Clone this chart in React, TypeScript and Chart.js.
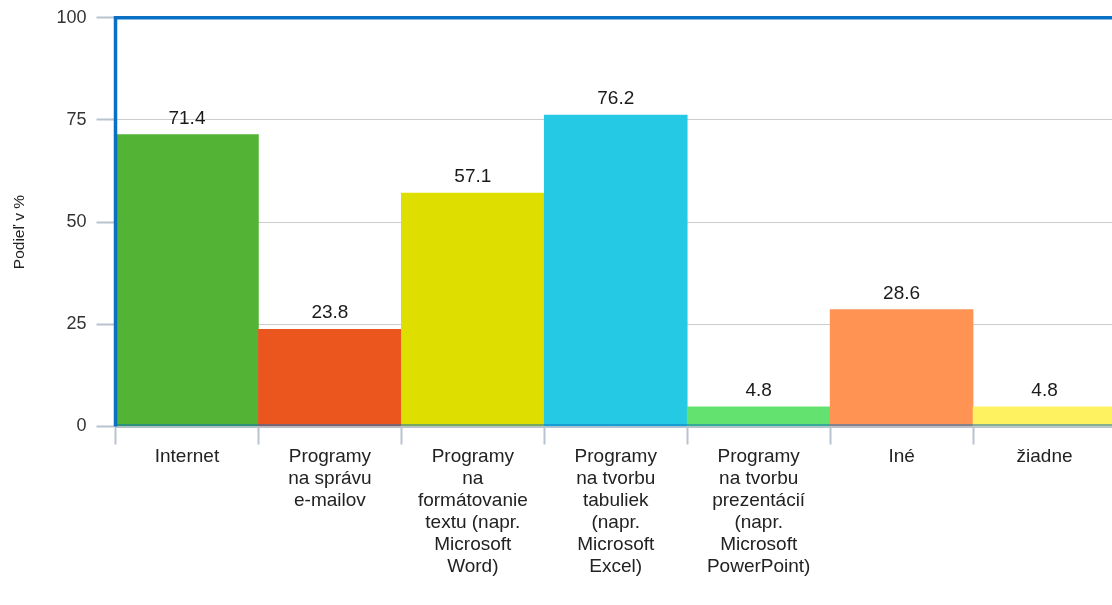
import React, { useEffect, useRef } from "react";
import { Chart, registerables } from "chart.js";

Chart.register(...registerables);

const categories: string[][] = [
  ["Internet"],
  ["Programy", "na správu", "e-mailov"],
  ["Programy", "na", "formátovanie", "textu (napr.", "Microsoft", "Word)"],
  ["Programy", "na tvorbu", "tabuliek", "(napr.", "Microsoft", "Excel)"],
  ["Programy", "na tvorbu", "prezentácií", "(napr.", "Microsoft", "PowerPoint)"],
  ["Iné"],
  ["žiadne"],
];
const values: number[] = [71.4, 23.8, 57.1, 76.2, 4.8, 28.6, 4.8];
const barColors: string[] = ["#52b335", "#eb561e", "#dede00", "#25c9e3", "#64e26f", "#ff9354", "#fff261"];
const yTicks: number[] = [0, 25, 50, 75, 100];
const yTitle = "Podieľ v %";

const FONT = "'Liberation Sans', Arial, Helvetica, sans-serif";
const SHIFT = 3;

const framePlugin = {
  id: "frame",
  afterDatasetsDraw(chart: any) {
    const { ctx, chartArea } = chart;
    const { left, top, right, bottom } = chartArea;
    ctx.save();
    ctx.strokeStyle = "#0a70c4";
    ctx.lineWidth = 1;
    ctx.beginPath();
    ctx.moveTo(left, bottom - 1.5);
    ctx.lineTo(right, bottom - 1.5);
    ctx.stroke();
    ctx.lineWidth = 3.5;
    ctx.beginPath();
    ctx.moveTo(left, bottom);
    ctx.lineTo(left, top);
    ctx.lineTo(right, top);
    ctx.stroke();
    ctx.restore();
  },
};

const labelPlugin = {
  id: "barLabels",
  afterDatasetsDraw(chart: any) {
    const { ctx } = chart;
    const meta = chart.getDatasetMeta(0);
    ctx.save();
    ctx.font = `19px ${FONT}`;
    ctx.fillStyle = "#1a1a1a";
    ctx.textAlign = "center";
    ctx.textBaseline = "middle";
    meta.data.forEach((bar: any, i: number) => {
      ctx.fillText(values[i].toFixed(1), bar.x, bar.y - 16);
    });
    ctx.restore();
  },
};

const titlePlugin = {
  id: "yTitle",
  afterDraw(chart: any) {
    const { ctx } = chart;
    ctx.save();
    ctx.font = `15.5px ${FONT}`;
    ctx.fillStyle = "#222";
    ctx.textAlign = "center";
    ctx.textBaseline = "middle";
    ctx.translate(20, 232 + SHIFT);
    ctx.rotate(-Math.PI / 2);
    ctx.fillText(yTitle, 0, 0);
    ctx.restore();
  },
};

export default function App() {
  const ref = useRef<HTMLCanvasElement | null>(null);

  useEffect(() => {
    if (!ref.current) return;
    const chart = new Chart(ref.current, {
      type: "bar",
      data: {
        labels: categories,
        datasets: [
          {
            data: values,
            backgroundColor: barColors,
            borderWidth: 0,
            categoryPercentage: 1,
            barPercentage: 1,
          },
        ],
      },
      options: {
        animation: false,
        responsive: false,
        devicePixelRatio: 1,
        layout: { padding: { top: 14.5, right: 0, left: 0, bottom: 0 } },
        plugins: {
          legend: { display: false },
          tooltip: { enabled: false },
        },
        scales: {
          x: {
            grid: {
              display: true,
              offset: true,
              drawOnChartArea: false,
              drawTicks: true,
              tickLength: 18,
              tickColor: "#b8c3d0",
              tickWidth: 2,
            },
            border: { display: true, color: "#b8c3d0", width: 2 },
            ticks: {
              autoSkip: false,
              maxRotation: 0,
              minRotation: 0,
              padding: 1,
              color: "#222",
              font: { family: FONT, size: 19, lineHeight: 22 / 19 },
            },
            afterFit(scale: any) {
              scale.height = 605 - 426.5;
            },
          },
          y: {
            min: 0,
            max: 100,
            afterBuildTicks(scale: any) {
              scale.ticks = yTicks.map((v) => ({ value: v }));
            },
            grid: {
              color: "#cccccc",
              lineWidth: 1,
              tickLength: 19,
              tickColor: "#b8c3d0",
              tickWidth: 2,
            },
            border: { display: false },
            ticks: {
              padding: 10,
              color: "#333",
              font: { family: FONT, size: 18 },
            },
            title: { display: false },
            afterFit(scale: any) {
              scale.width = 115.5;
            },
          },
        },
      },
      plugins: [framePlugin, labelPlugin, titlePlugin],
    });
    return () => chart.destroy();
  }, []);

  return (
    <div
      style={{
        position: "fixed",
        left: 0,
        top: 0,
        width: 1112,
        height: 605,
        overflow: "hidden",
        background: "#fff",
      }}
    >
      <canvas
        ref={ref}
        width={1116}
        height={605 + SHIFT}
        style={{ display: "block", marginTop: -SHIFT }}
      />
    </div>
  );
}
